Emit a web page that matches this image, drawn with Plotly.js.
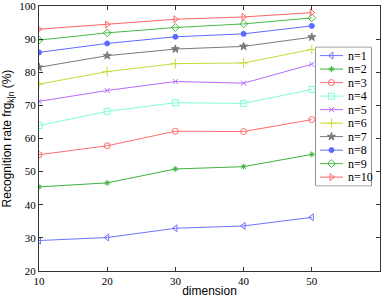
<!DOCTYPE html>
<html>
<head>
<meta charset="utf-8">
<script src="https://cdn.plot.ly/plotly-3.0.1.min.js"></script>
<style>html,body{margin:0;padding:0;background:#fff;}#chart{width:382px;height:298px;}</style>
</head>
<body>
<div id="chart"></div>
<script>
const dimension = [10, 20, 30, 40, 50];
const seriesNames = ["n=1","n=2","n=3","n=4","n=5","n=6","n=7","n=8","n=9","n=10"];
const n1  = [29.2, 30.1, 32.9, 33.6, 36.2];
const n2  = [45.4, 46.6, 50.8, 51.5, 55.2];
const n3  = [55.1, 57.8, 62.2, 62.1, 65.7];
const n4  = [63.9, 68.2, 70.8, 70.6, 74.8];
const n5  = [71.2, 74.5, 77.2, 76.7, 82.4];
const n6  = [76.4, 80.2, 82.6, 82.8, 86.9];
const n7  = [81.5, 85.0, 87.0, 87.8, 90.6];
const n8  = [86.0, 88.7, 90.7, 91.6, 94.0];
const n9  = [89.7, 91.9, 93.5, 94.6, 96.4];
const n10 = [93.0, 94.4, 96.0, 96.7, 98.0];
const allSeries = [n1,n2,n3,n4,n5,n6,n7,n8,n9,n10];

const colors = ["#6f73ff","#3fb23f","#ff6b6b","#7fffd0","#b86bff","#cbd93a","#7a7a7a","#5b6bff","#46b946","#ff6464"];
const symbols = ["triangle-left-open","asterisk-open","circle-open","square-open","x-thin-open","cross-thin-open","star","circle","diamond-open","triangle-right-open"];
const sizes = [6,5,6,6,5,7,6,5,6,6];

const traces = allSeries.map((ys, i) => ({
  x: dimension, y: ys, name: seriesNames[i], type: 'scatter', mode: 'lines+markers',
  line: {color: colors[i], width: 1},
  marker: {symbol: symbols[i], size: sizes[i], color: colors[i], line: {color: colors[i], width: 1}},
  showlegend: false
}));

// Compact legend drawn in a small overlay subplot (MATLAB-style spacing)
const legLineX = [4, 27], legMarkX = 15.5, legTextX = 29.5, legTop = 8.3, legStep = 13.6;
seriesNames.forEach((nm, i) => {
  const yy = legTop + i * legStep;
  traces.push({
    x: legLineX, y: [yy, yy], xaxis: 'x2', yaxis: 'y2', type: 'scatter', mode: 'lines',
    line: {color: colors[i], width: 1}, showlegend: false, hoverinfo: 'skip'
  });
  traces.push({
    x: [legMarkX], y: [yy], xaxis: 'x2', yaxis: 'y2', type: 'scatter', mode: 'markers',
    marker: {symbol: symbols[i], size: sizes[i], color: colors[i], line: {color: colors[i], width: 1}},
    showlegend: false, hoverinfo: 'skip'
  });
});
const legendAnnotations = seriesNames.map((nm, i) => ({
  x: legTextX, y: legTop + i * legStep, xref: 'x2', yref: 'y2', text: nm, showarrow: false,
  xanchor: 'left', yanchor: 'middle',
  font: {family: 'Liberation Serif, Times New Roman, serif', size: 12, color: '#000'}
}));

const axisCommon = {
  showline: true, mirror: 'ticks', linecolor: '#333', linewidth: 1,
  ticks: 'inside', ticklen: 4, tickcolor: '#333', showgrid: false, zeroline: false,
  ticklabeloverflow: 'allow',
  tickfont: {family: 'Liberation Serif, Times New Roman, serif', size: 11, color: '#000'}
};

const legX0 = 0.812, legX1 = 0.974, legY0 = 0.322, legY1 = 0.844;

const layout = {
  width: 382, height: 298,
  margin: {l: 39, r: 2, t: 6, b: 27},
  paper_bgcolor: '#fff', plot_bgcolor: '#fff',
  showlegend: false,
  xaxis: Object.assign({}, axisCommon, {
    range: [10, 60], tickvals: [10, 20, 30, 40, 50],
    title: {text: 'dimension', font: {family: 'Liberation Sans, Arial, sans-serif', size: 12, color: '#000'}, standoff: 2}
  }),
  yaxis: Object.assign({}, axisCommon, {
    range: [20, 100], tickvals: [20,30,40,50,60,70,80,90,100],
    title: {text: 'Recognition rate frg<sub>k|n</sub> (%)', font: {family: 'Liberation Sans, Arial, sans-serif', size: 12, color: '#000'}, standoff: 6}
  }),
  xaxis2: {domain: [legX0, legX1], range: [0, 55], anchor: 'y2', visible: false, fixedrange: true},
  yaxis2: {domain: [legY0, legY1], range: [139.3, 0], anchor: 'x2', visible: false, fixedrange: true},
  shapes: [{
    type: 'rect', xref: 'paper', yref: 'paper', x0: legX0, x1: legX1, y0: legY0, y1: legY1,
    line: {color: '#333', width: 1}, fillcolor: '#fff', layer: 'below'
  }],
  annotations: legendAnnotations
};

Plotly.newPlot('chart', traces, layout, {displayModeBar: false, staticPlot: true});
</script>
</body>
</html>
